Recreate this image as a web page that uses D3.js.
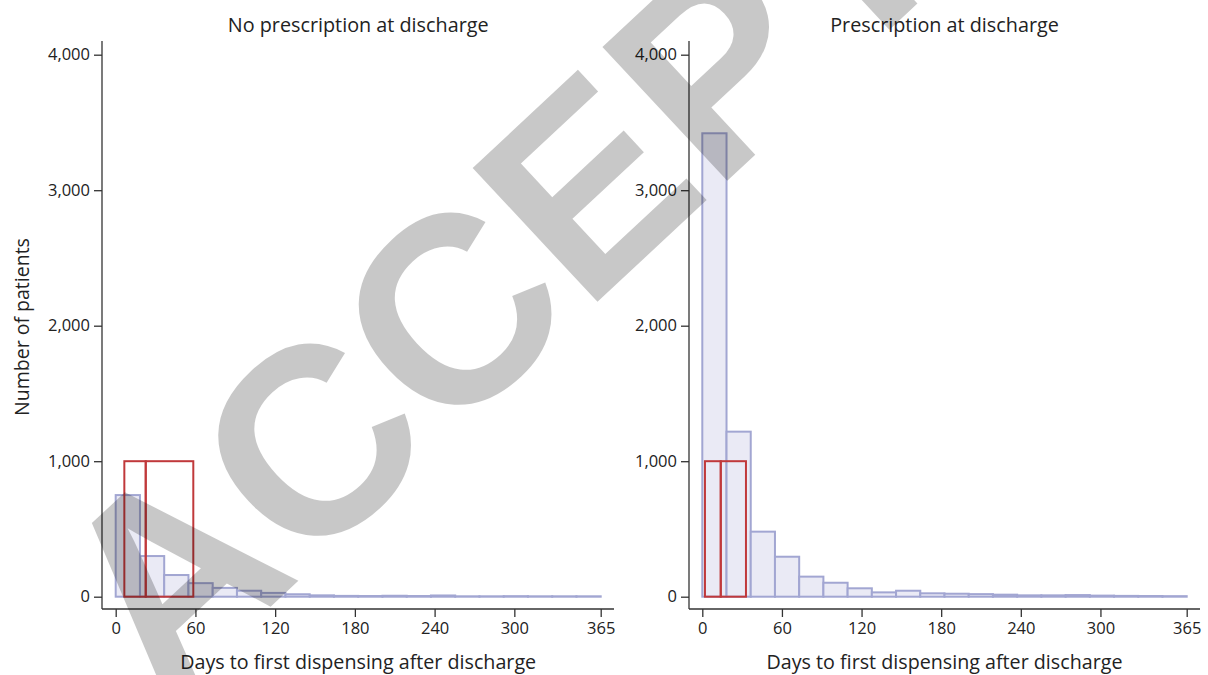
<!DOCTYPE html>
<html>
<head>
<meta charset="utf-8">
<script src="https://cdn.jsdelivr.net/npm/d3@7"></script>
<style>
  body { margin: 0; background: #fff; }
  svg { display: block; font-family: "Open Sans", sans-serif; }
</style>
</head>
<body>
<script>
// histogram of days to first dispensing, 20 bins over 0-365 days
var binWidth = 365 / 20;
var noRxCounts = [750, 300, 160, 100, 65, 44, 28, 18, 10, 6, 5, 7, 5, 9, 3, 3, 4, 3, 3, 3];
var rxCounts = [3420, 1218, 480, 295, 148, 103, 62, 32, 44, 25, 22, 19, 15, 10, 10, 12, 8, 6, 5, 4];
// quartile boxes (Q1, median, Q3), drawn up to boxTop
var noRxBox = [6.5, 22.6, 58.4];
var rxBox = [2, 13.9, 32.9];
var boxTop = 1000;
var dayTicks = [0, 60, 120, 180, 240, 300, 365];
var countTicks = [0, 1000, 2000, 3000, 4000];
var titles = ['No prescription at discharge', 'Prescription at discharge'];

var w = 1208, h = 675;
var svg = d3.select('body').append('svg')
  .attr('width', w)
  .attr('height', h);

var fmt = d3.format(',');

var panels = [
  {title: titles[0], counts: noRxCounts, box: noRxBox, axisX: 102, x0: 115.7, x1: 600.7, xEnd: 614, yLabel: true},
  {title: titles[1], counts: rxCounts, box: rxBox, axisX: 689, x0: 702.3, x1: 1186.7, xEnd: 1200, yLabel: false}
];

var yScale = d3.scaleLinear().domain([0, 4000]).range([596.7, 54.7]);
var axisY = 609;

panels.forEach(function(p) {
  var xScale = d3.scaleLinear().domain([0, 365]).range([p.x0, p.x1]);
  var g = svg.append('g');

  // bars
  g.selectAll('rect.bar')
    .data(p.counts)
    .enter()
    .append('rect')
    .attr('class', 'bar')
    .attr('x', function(d, i) { return xScale(i * binWidth); })
    .attr('width', function(d, i) { return xScale((i + 1) * binWidth) - xScale(i * binWidth); })
    .attr('y', function(d) { return yScale(d); })
    .attr('height', function(d) { return yScale(0) - yScale(d); })
    .attr('fill', '#eaeaf5')
    .attr('stroke', '#a2a6d2')
    .attr('stroke-width', 2);

  // quartile boxes
  var boxes = [[p.box[0], p.box[1]], [p.box[1], p.box[2]]];
  g.selectAll('rect.box')
    .data(boxes)
    .enter()
    .append('rect')
    .attr('class', 'box')
    .attr('x', function(d) { return xScale(d[0]); })
    .attr('width', function(d) { return xScale(d[1]) - xScale(d[0]); })
    .attr('y', yScale(boxTop))
    .attr('height', yScale(0) - yScale(boxTop))
    .attr('fill', 'none')
    .attr('stroke', '#c0393b')
    .attr('stroke-width', 2);

  // y axis
  var yAxis = d3.axisLeft(yScale).tickValues(countTicks).tickFormat(fmt).tickSize(8).tickPadding(4);
  var ya = g.append('g')
    .attr('transform', 'translate(' + p.axisX + ',0)')
    .call(yAxis);
  ya.select('.domain').remove();
  ya.selectAll('line').attr('stroke', '#333').attr('stroke-width', 1.3);
  ya.selectAll('text').attr('font-size', '16.5px').attr('fill', '#222').attr('font-family', '"Open Sans", sans-serif');
  g.append('line')
    .attr('x1', p.axisX).attr('x2', p.axisX)
    .attr('y1', 41).attr('y2', axisY)
    .attr('stroke', '#333').attr('stroke-width', 1.3);

  // x axis
  var xAxis = d3.axisBottom(xScale).tickValues(dayTicks).tickSize(8).tickPadding(5);
  var xa = g.append('g')
    .attr('transform', 'translate(0,' + axisY + ')')
    .call(xAxis);
  xa.select('.domain').remove();
  xa.selectAll('line').attr('stroke', '#333').attr('stroke-width', 1.3);
  xa.selectAll('text').attr('font-size', '16.5px').attr('fill', '#222').attr('font-family', '"Open Sans", sans-serif');
  g.append('line')
    .attr('x1', p.axisX).attr('x2', p.xEnd)
    .attr('y1', axisY).attr('y2', axisY)
    .attr('stroke', '#333').attr('stroke-width', 1.3);

  var cx = (p.x0 + p.x1) / 2;
  g.append('text')
    .attr('x', cx).attr('y', 32)
    .attr('text-anchor', 'middle')
    .attr('font-size', '19.8px')
    .attr('fill', '#222')
    .text(p.title);

  g.append('text')
    .attr('x', cx).attr('y', 669)
    .attr('text-anchor', 'middle')
    .attr('font-size', '19.7px')
    .attr('fill', '#222')
    .text('Days to first dispensing after discharge');

  if (p.yLabel) {
    g.append('text')
      .attr('transform', 'translate(29,327) rotate(-90)')
      .attr('text-anchor', 'middle')
      .attr('font-size', '19.5px')
      .attr('fill', '#222')
      .text('Number of patients');
  }
});

// watermark
svg.append('text')
  .attr('transform', 'translate(163,707) rotate(-43)')
  .attr('font-family', '"Liberation Sans", Arial, sans-serif')
  .attr('font-weight', 'bold')
  .attr('font-size', '266px')
  .attr('fill', '#000')
  .attr('opacity', 0.21)
  .text('ACCEPTED');
</script>
</body>
</html>
